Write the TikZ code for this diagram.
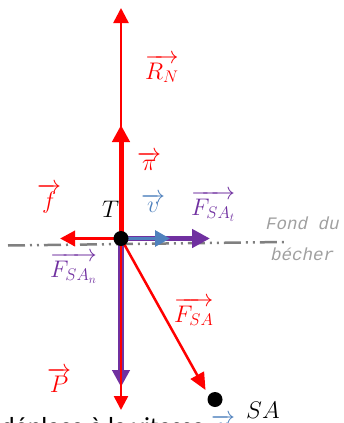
\RequirePackage{fix-cm}
\documentclass[tikz,border=0pt]{standalone}
\usepackage{fontspec}
\usetikzlibrary{arrows.meta}
\newfontfamily\monoit{Liberation Mono}[FakeSlant=0.22]
\newfontfamily\calib{Carlito}
\definecolor{fred}{HTML}{FF0000}
\definecolor{fpurple}{HTML}{7030A0}
\definecolor{fblue}{HTML}{4F81BD}
\definecolor{lgray}{HTML}{808080}
\definecolor{tgray}{HTML}{A0A0A0}
\tikzset{
  lbl/.style={inner sep=0pt, anchor=base west, font=\fontsize{24}{28}\selectfont},
  fondtxt/.style={inner sep=0pt, anchor=base west, text=tgray, font=\monoit\fontsize{17.5}{20}\selectfont},
}
\begin{document}
\begin{tikzpicture}[x=1pt,y=-1pt]
\useasboundingbox (0,0) rectangle (343,423);
\clip (0,0) rectangle (343,423);
% points
\coordinate (T) at (121,238.5);
\coordinate (rnTip) at (121,8);
\coordinate (piTip) at (121,125);
\coordinate (fTip) at (60,238.5);
\coordinate (vTip) at (170,238.5);
\coordinate (ftTip) at (210,238.5);
\coordinate (fnTip) at (121,387);
\coordinate (pTip) at (121,410);
\coordinate (fsaTip) at (205.5,390);
\coordinate (SA) at (215,399.5);
\coordinate (gl) at (8,245.5);
\coordinate (gr) at (284,242);
% bottom of the beaker
\draw[lgray, line width=2.5pt, dash pattern=on 17pt off 5pt on 2pt off 5pt on 2pt off 5pt] (gl) -- (gr);
% downward vectors
\draw[fpurple, line width=6pt, -{Triangle[length=17pt,width=17pt]}] (T) -- (fnTip);
\draw[fred, line width=2.5pt, -{Triangle[length=14pt,width=14pt]}] (T) -- (pTip);
% upward vectors
\draw[fred, line width=2.5pt, -{Triangle[length=15pt,width=15pt]}] (T) -- (rnTip);
\draw[fred, line width=5pt, -{Triangle[length=17pt,width=17pt]}] (T) -- (piTip);
% horizontal vectors
\draw[fred, line width=3.5pt, -{Triangle[length=15pt,width=15pt]}] (T) -- (fTip);
\draw[fpurple, line width=5.5pt, -{Triangle[length=18pt,width=18pt]}] (T) -- (ftTip);
\draw[fblue, line width=3pt, -{Triangle[length=15pt,width=16pt]}] (T) -- (vTip);
% oblique
\draw[fred, line width=2.5pt, -{Triangle[length=17pt,width=15pt]}] (T) -- (fsaTip);
% points
\fill[black] (T) circle (7.5pt);
\fill[black] (SA) circle (7.5pt);
% labels
\node[lbl, text=fred] (lRN) at (145,79) {$\overrightarrow{R_N}$};
\node[lbl, text=fred] (lpi) at (137,170) {$\overrightarrow{\pi}$};
\node[lbl, text=fred] (lf) at (37,208) {$\overrightarrow{f}$};
\node[lbl, text=black] (lT) at (102,217) {$T$};
\node[lbl, text=fblue] (lv) at (141,212) {$\overrightarrow{v}$};
\node[lbl, text=fpurple] (lFt) at (191,215) {$\overrightarrow{F_{SA_t}}$};
\node[lbl, text=fpurple] (lFn) at (50,277) {$\overrightarrow{F_{SA_n}}$};
\node[lbl, text=fred] (lFsa) at (174,322) {$\overrightarrow{F_{SA}}$};
\node[lbl, text=fred] (lP) at (47,392) {$\overrightarrow{P}$};
\node[lbl, text=black] (lSA) at (246,418) {$SA$};
\node[fondtxt] (fond1) at (265,229) {Fond du};
\node[fondtxt] (fond2) at (270,260) {bécher};
% bottom text (partly cut off)
\node[inner sep=0pt, anchor=base west, font=\calib\fontsize{26}{30}\selectfont] (btxt) at (1,435) {déplace à la vitesse};
\node[lbl, text=fblue] (bv) at (211,433) {$\overrightarrow{v}$};
\end{tikzpicture}
\end{document}
